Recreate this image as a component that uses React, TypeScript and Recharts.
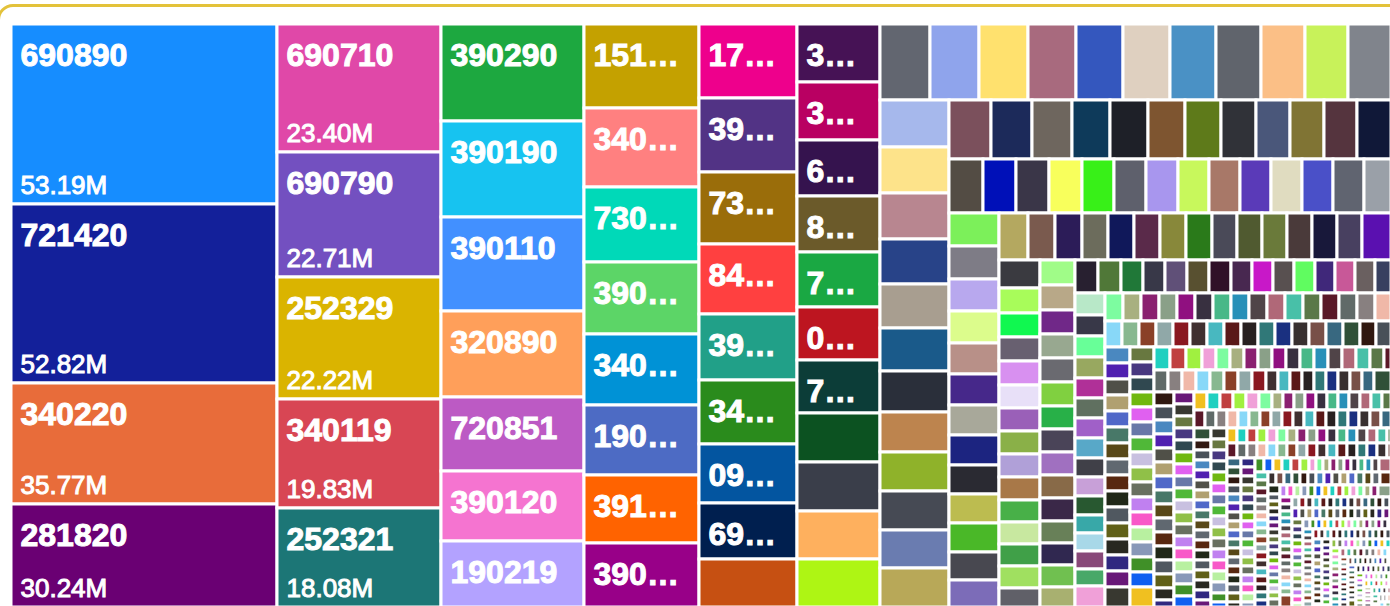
import React from "react";
import { Treemap } from "recharts";

// HS codes shown in the big tiles (and the unlabeled tiles of the same columns)
const codes = [
  "690890", "721420", "340220", "281820",
  "690710", "690790", "252329", "340119", "252321",
  "390290", "390190", "390110", "320890", "720851", "390120", "190219",
  "151211", "340111", "730890", "390410", "340290", "190590", "391590", "390330",
  "170490", "392690", "732690", "847130", "392310", "340590", "090111", "691110", "481910",
  "330499", "330410", "640399", "850440", "711319", "030617", "711790", "731815", "940360", "420292", "950300",
];
// values in millions
const codeValues = [
  53.19, 52.82, 35.77, 30.24,
  23.4, 22.71, 22.22, 19.83, 18.08,
  15.4, 15.25, 14.9, 13.6, 11.77, 11.12, 10.84,
  10.78, 10.08, 9.53, 9.24, 9.04, 8.89, 8.74, 8.14,
  8.1, 8.05, 7.8, 7.65, 7.2, 7.0, 6.45, 6.06, 5.11,
  5.38, 5.37, 5.2, 5.17, 5.08, 4.92, 4.89, 4.55, 4.52, 4.47, 4.17,
];
const codeColors = [
  "#168dff", "#13209a", "#e86c3a", "#6a0073",
  "#e048a8", "#7350c0", "#dab400", "#d84654", "#1c7676",
  "#1da840", "#17c3f0", "#4290ff", "#ff9f5a", "#bc5ac4", "#f574d0", "#b3a2ff",
  "#c4a100", "#ff8080", "#00d9b8", "#5cd567", "#0092d6", "#4d6bc4", "#ff6300", "#980088",
  "#ee008c", "#523385", "#9a6d0a", "#ff4040", "#21a088", "#2a8b1c", "#0355a0", "#001f4f", "#c65012",
  "#461255", "#b90062", "#35134e", "#6b5a2a", "#1aa843", "#bd1520", "#0c3d38", "#0c5221", "#3a3e4a", "#feb05e", "#aef514",
];

// smaller unlabeled tiles, read left-to-right / top-to-bottom
const midValues = [
  4.18, 4.15, 4.1, 4.08, 4.0, 3.96, 3.9, 3.82, 3.72, 3.66, 3.6,
  3.57, 3.55, 3.5, 3.45, 3.36, 3.27, 3.15, 3.06, 3.02, 2.98, 2.92, 2.8,
  2.78, 2.7, 2.64, 2.52, 2.46, 2.42, 2.34, 2.28, 2.26, 2.2, 2.14, 2.1,
  2.04, 2.0, 1.96, 1.95, 1.93, 1.91, 1.9, 1.88, 1.87, 1.86, 1.85, 1.84, 1.83, 1.82,
  1.86, 1.83, 1.78, 1.75, 1.73, 1.7, 1.68, 1.65, 1.63, 1.61, 1.59, 1.57, 1.55, 1.53,
  1.4, 1.39, 1.38, 1.37, 1.36, 1.35, 1.34, 1.33, 1.32, 1.32, 1.31, 1.3, 1.3, 1.29, 1.28,
  1.12, 1.1, 1.09, 1.08, 1.07, 1.06, 1.05, 1.04, 1.03, 1.02, 1.01, 1.0, 0.99, 0.98,
  0.97, 0.96, 0.95, 0.94, 0.93, 0.92, 0.91, 0.9, 0.9, 0.89, 0.88, 0.87, 0.86, 0.86, 0.85,
  0.84, 0.83, 0.82, 0.81, 0.8, 0.8, 0.79, 0.78, 0.77, 0.76, 0.76, 0.75, 0.74, 0.73, 0.72, 0.72,
  0.71, 0.7, 0.69, 0.68, 0.67, 0.66, 0.65, 0.64, 0.63, 0.62, 0.61, 0.6, 0.59, 0.58,
];
const midColors = [
  "#626670", "#8fa4ec", "#ffe16e", "#a86a7e", "#3457be", "#dfd0c0", "#4a91c5", "#60646c", "#fbbf86", "#c8f25a", "#80848c",
  "#a6b8ec", "#fde38a", "#b88690", "#284388", "#a89e90", "#1a5a8a", "#2a2f3a", "#bd844e", "#8fb22a", "#464a54", "#6a7cb0", "#b8a858",
  "#7b505c", "#1c2a5a", "#6e665e", "#0e3a5a", "#1e2028", "#7e5530", "#5e7a1a", "#303238", "#4a577a", "#807434", "#55343e", "#101838",
  "#534c44", "#0010b8", "#3a3648", "#f8ff5c", "#38f018", "#5e606c", "#a896ee", "#c8f85c", "#a87868", "#5a3ab8", "#e0dcc0", "#4a50c8", "#606470", "#9aa0a8",
  "#7cf05a", "#7e7c86", "#b8a8ee", "#dcfc8c", "#b89088", "#46288a", "#a8a89a", "#1c2480", "#2a2a32", "#bcbc50", "#4ab828", "#484850", "#7c6cb8", "#b4a860",
  "#7a5a4e", "#2c1c58", "#6c6c5c", "#10185a", "#5a2a4a", "#88883a", "#2a7a1a", "#4a4a58", "#505a30", "#6a7a3a", "#4a3a3a", "#18183a", "#484060", "#5a10b0", "#3a3a40",
  "#a8fc5a", "#10f850", "#686070", "#d890f0", "#e8e0f8", "#9a60b8", "#8ab048", "#b0a0d8", "#a87848", "#48b048", "#c8e8a0", "#40a048", "#a0e060", "#606068",
  "#a0fc88", "#b8a888", "#702888", "#98a890", "#6a6a70", "#80d040", "#28b048", "#4a4458", "#a070c0", "#886a48", "#3a2848", "#688058", "#302850", "#70c050", "#a8b070",
  "#282030", "#507838", "#207838", "#383848", "#605078", "#585030", "#301028", "#482850", "#c818c8", "#585050", "#60fc60", "#40287a", "#c85898", "#6a6060", "#384060", "#b8e8c8",
  "#383848", "#68ff98", "#98a860", "#b03098", "#607060", "#a060c8", "#58a8c8", "#404048", "#c8a0d8", "#285830", "#38a8a8", "#a8d8e8", "#884878", "#48a868",
];

// tail of tiny tiles: estimated tile size (millions) and how many tiles of that size
const tailSizes = [0.55, 0.5, 0.45, 0.4, 0.35, 0.3, 0.26, 0.22, 0.19, 0.16, 0.135, 0.115, 0.095, 0.08, 0.065, 0.055, 0.045, 0.035];
const tailCounts = [16, 16, 18, 20, 22, 24, 26, 30, 32, 36, 40, 44, 45, 45, 45, 50, 40, 55];
const tailPalette = [
  "#f0a0d8", "#7dfca0", "#a8b080", "#8a2070", "#8aa088", "#901080", "#383040", "#48b888", "#2890b8", "#504448",
  "#b06878", "#48c0a8", "#5a7848", "#5a1828", "#606a68", "#888080", "#f0b8a8", "#88d8f8", "#88b890", "#8a4028",
  "#90a8a8", "#8a1820", "#403030", "#48b8c0", "#5a1818", "#282020", "#307878", "#1a3080", "#383030", "#785048",
  "#386880", "#305038", "#301810", "#485058", "#4a88c0", "#5020b0", "#505048", "#b0a070", "#5068c8", "#487868",
  "#584818", "#606870", "#582810", "#202818", "#505860", "#606018", "#282820", "#302880", "#681878", "#383830",
  "#687840", "#483880", "#304850", "#70b810", "#e060f0", "#6878a8", "#50b838", "#c8c0e0", "#90c048", "#687060",
  "#c080f0", "#f858c8", "#b8f0a0", "#8898b8", "#409028", "#1060f0", "#f0c020", "#20d0c0", "#c04040", "#a0f040",
];

const data = [
  ...codes.map((name, i) => ({ name, value: codeValues[i], color: codeColors[i] })),
  ...midValues.map((value, i) => ({ name: "", value, color: midColors[i % midColors.length] })),
];
let k = 0;
tailSizes.forEach((size, g) => {
  for (let j = 0; j < tailCounts[g]; j++) {
    data.push({ name: "", value: size, color: tailPalette[k % tailPalette.length] });
    k++;
  }
});

const FONT = "'Liberation Sans', Arial, Helvetica, sans-serif";
const ctx = document.createElement("canvas").getContext("2d");

function fitLabel(text: string, maxW: number) {
  if (!text || !ctx) return "";
  ctx.font = `bold 32px ${FONT}`;
  if (ctx.measureText(text).width <= maxW) return text;
  for (let n = text.length - 1; n >= 1; n--) {
    const t = text.slice(0, n) + "…";
    if (ctx.measureText(t).width <= maxW) return t;
  }
  return "";
}

function Tile(props: any) {
  const { x, y, width, height, depth, name, value, color } = props;
  if (depth !== 1) return null;
  const label = height >= 51 ? fitLabel(name, width - 20) : "";
  const showValue = label && width > 150 && height > 90;
  return (
    <g>
      <rect x={x} y={y} width={width} height={height} fill={color} stroke="#fff" strokeWidth={3} />
      {label ? (
        <text x={x + 9.5} y={y + 42} fill="#fff" fontSize={32} fontWeight="bold" fontFamily={FONT}>
          {label}
        </text>
      ) : null}
      {showValue ? (
        <text x={x + 9.5} y={y + height - 10} fill="#fff" fontSize={26} fontFamily={FONT}>
          {value.toFixed(2)}M
        </text>
      ) : null}
    </g>
  );
}

export default function App() {
  return (
    <div style={{ position: "absolute", left: 0, top: 0, width: 1390, height: 606, overflow: "hidden", background: "#fff" }}>
      <div
        style={{
          position: "absolute",
          left: -3,
          top: 4,
          width: 1600,
          height: 900,
          border: "3px solid #e3c23a",
          borderRadius: 16,
          boxSizing: "border-box",
        }}
      />
      <div style={{ position: "absolute", left: 11, top: 24 }}>
        <Treemap
          width={1380}
          height={583}
          data={data}
          dataKey="value"
          nameKey="name"
          stroke="#fff"
          content={<Tile />}
          isAnimationActive={false}
        />
      </div>
    </div>
  );
}
